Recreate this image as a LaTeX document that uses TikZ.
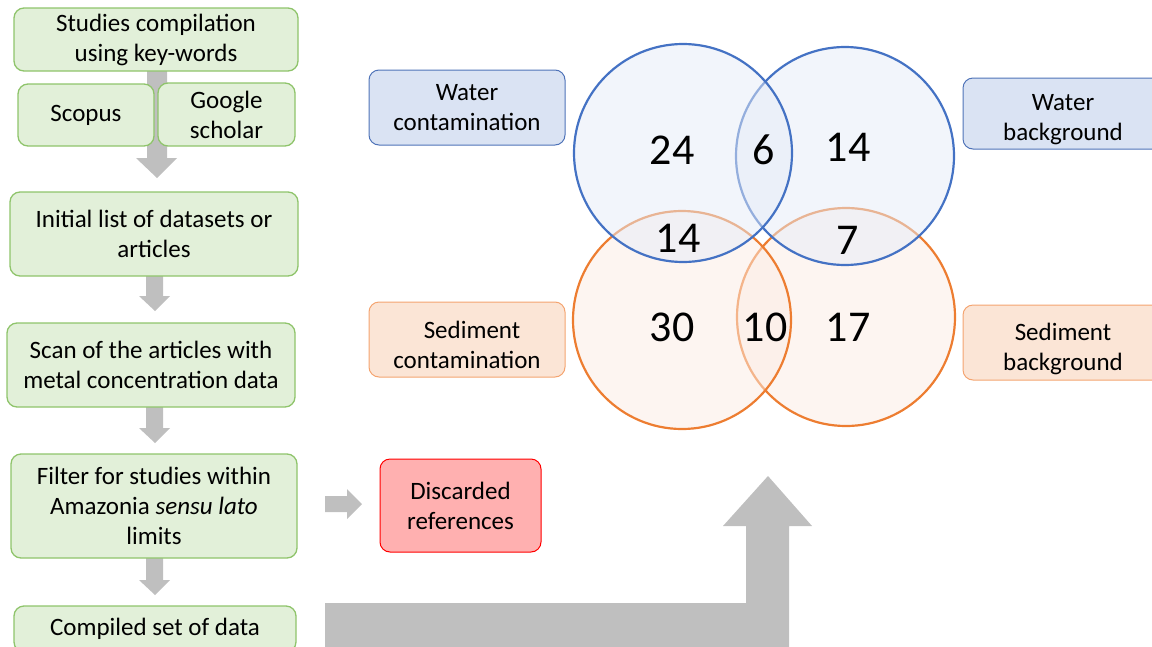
\documentclass[tikz,border=0pt]{standalone}
\usepackage{fontspec}
\setmainfont{Carlito}
\definecolor{gfill}{HTML}{E2F0D9}
\definecolor{gdraw}{HTML}{8FC46B}
\definecolor{arrc}{HTML}{BFBFBF}
\definecolor{bfill}{HTML}{DAE3F3}
\definecolor{bdraw}{HTML}{4F73B8}
\definecolor{ofill}{HTML}{FBE5D6}
\definecolor{odraw}{HTML}{F4A470}
\definecolor{rfill}{HTML}{FFB0B0}
\definecolor{rdraw}{HTML}{FF0000}
\definecolor{cblue}{HTML}{4472C4}
\definecolor{corange}{HTML}{ED7D31}
\definecolor{cbfill}{RGB}{229,235,247}
\definecolor{cofill}{RGB}{251,235,227}
\begin{document}
\begin{tikzpicture}[x=1pt,y=-1pt,
  boxbase/.style={rounded corners=10pt, line width=1.3pt, align=center, inner sep=0pt,
    font=\fontsize{25}{30}\selectfont},
  gbox/.style={boxbase, fill=gfill, draw=gdraw},
  bbox/.style={boxbase, fill=bfill, draw=bdraw, line width=1pt},
  obox/.style={boxbase, fill=ofill, draw=odraw, line width=1pt},
  rbox/.style={boxbase, fill=rfill, draw=rdraw, line width=1pt},
  lowtext/.style={label={[align=center, inner sep=0pt, font=\fontsize{25}{30}\selectfont, yshift=-#1]center:}},
  blockarrow/.style={fill=arrc, draw=none},
  bcirc/.style={draw=cblue, line width=2.2pt, fill=cbfill, fill opacity=0.5},
  ocirc/.style={draw=corange, line width=2.2pt, fill=cofill, fill opacity=0.5},
  num/.style={font=\fontsize{44}{50}\selectfont, inner sep=0pt}
]
\useasboundingbox (0,0) rectangle (1152,646);
\clip (0,0) rectangle (1152,646);

% ---- block arrows (behind boxes)
\path[blockarrow] (147,71) -- (167,71) -- (167,158) -- (177,158) -- (157,178) -- (136,158) -- (147,158) -- cycle;
\path[blockarrow] (146,276) -- (163,276) -- (163,296) -- (170,296) -- (155,311) -- (139,296) -- (146,296) -- cycle;
\path[blockarrow] (146,407) -- (163,407) -- (163,428) -- (170,428) -- (155,443) -- (139,428) -- (146,428) -- cycle;
\path[blockarrow] (146,558) -- (163,558) -- (163,580) -- (170,580) -- (155,595) -- (139,580) -- (146,580) -- cycle;
\path[blockarrow] (325,496) -- (347,496) -- (347,489) -- (362,504) -- (347,519) -- (347,512) -- (325,512) -- cycle;
\path[blockarrow] (325,603) -- (746,603) -- (746,526) -- (723,526) -- (768,476) -- (812,526) -- (789,526) -- (789,660) -- (325,660) -- cycle;

% ---- flowchart boxes
\node[gbox, minimum width=284pt, minimum height=63pt] (s1) at (156,39.5) {\rule{0pt}{14pt}Studies compilation\\using key-words};
\node[gbox, minimum width=136pt, minimum height=62pt] (scopus) at (86,115) {Scopus};
\node[gbox, minimum width=137pt, minimum height=63pt] (google) at (226.5,114.5) {Google\\scholar};
\node[gbox, minimum width=288pt, minimum height=84pt] (s2) at (154,234) {Initial list of datasets or\\articles};
\node[gbox, minimum width=288pt, minimum height=84pt] (s3) at (151,365) {Scan of the articles with\\metal concentration data};
\node[gbox, minimum width=286pt, minimum height=104pt] (s4) at (154,506) {Filter for studies within\\Amazonia \textit{sensu lato}\\limits};
\node[gbox, minimum width=282pt, minimum height=46pt] (s5) at (155,629) {Compiled set of data};
\node[rbox, minimum width=161pt, minimum height=93pt] (disc) at (460.5,505.5) {Discarded\\references};

% ---- Venn circles (order: BR, BL, TR, TL)
\path[ocirc] (846,317) circle[radius=109];
\path[ocirc] (682,320) circle[radius=109];
\path[bcirc] (845,156) circle[radius=109];
\path[bcirc] (683,153) circle[radius=109];

% ---- Venn labels
\node[bbox, minimum width=196pt, minimum height=75pt] (wc) at (467,107.5) {Water\\contamination};
\node[obox, minimum width=196pt, minimum height=75pt, label={[align=center, inner sep=0pt, font=\fontsize{25}{30}\selectfont, yshift=-5pt]center:\hspace*{10pt}Sediment\\contamination}] (sc) at (467,339.5) {};
\node[bbox, minimum width=200pt, minimum height=71pt, label={[align=center, inner sep=0pt, font=\fontsize{25}{30}\selectfont, yshift=-6pt]center:Water\\background}] (wb) at (1063,113.5) {};
\node[obox, minimum width=200pt, minimum height=75pt, label={[align=center, inner sep=0pt, font=\fontsize{25}{30}\selectfont, yshift=-6pt]center:Sediment\\background}] (sb) at (1063,342.5) {};

% ---- counts
\node[num] (n24) at (672,150) {24};
\node[num] (n6) at (764,150) {6};
\node[num] (n14a) at (848,147) {14};
\node[num] (n14b) at (678,238) {14};
\node[num] (n7) at (848,240) {7};
\node[num] (n30) at (672,327) {30};
\node[num] (n10) at (765,327) {10};
\node[num] (n17) at (848,327) {17};
\end{tikzpicture}
\end{document}
